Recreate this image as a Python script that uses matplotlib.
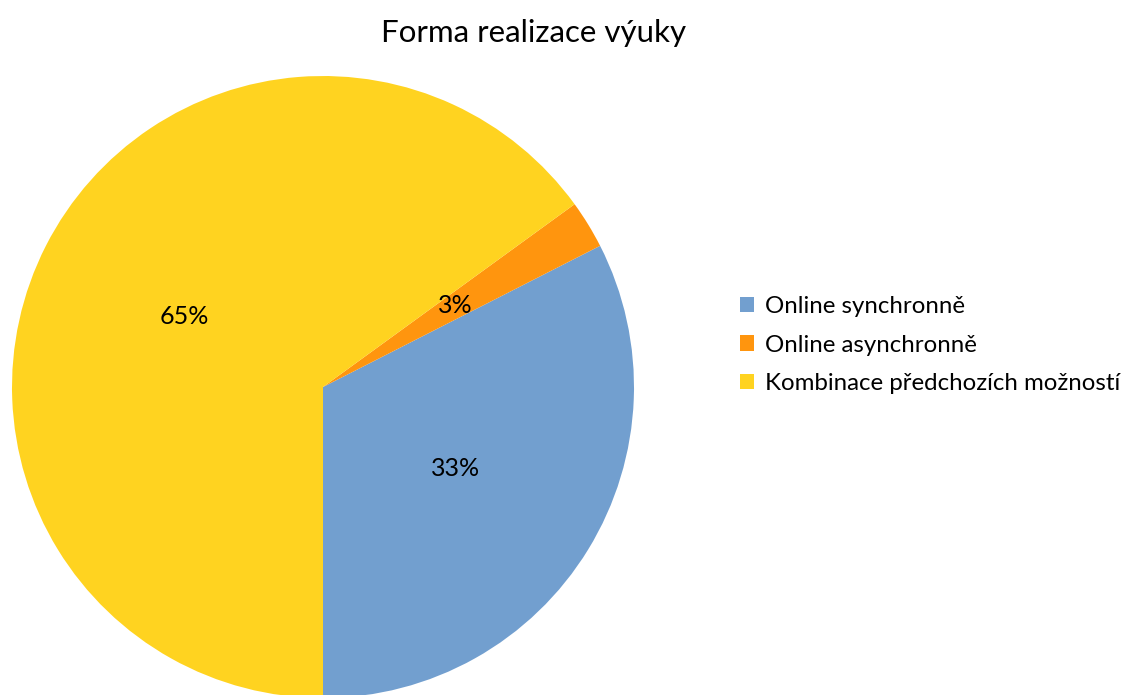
import math
import matplotlib.pyplot as plt

# Data: respondents per form of teaching (13/1/26 of 40)
labels = ["Online synchronně", "Online asynchronně", "Kombinace předchozích možností"]
counts = [13, 1, 26]
colors = ["#729fcf", "#ff950e", "#ffd320"]

plt.rcParams['font.family'] = ['Lato', 'DejaVu Sans']


def pct_label(p):
    # Excel-style rounding (half up)
    return f"{math.floor(p + 0.5 + 1e-9)}%"


fig = plt.figure(figsize=(11.32, 6.95), dpi=100)
ax = fig.add_axes([12 / 1132, (695 - 387 - 311) / 695, 622 / 1132, 622 / 695])

wedges, texts, autotexts = ax.pie(counts, colors=colors, startangle=-90, counterclock=True,
                                  autopct=pct_label, pctdistance=0.5, radius=1.0,
                                  textprops={'fontsize': 18, 'color': 'black'})
ax.set_xlim(-1, 1)
ax.set_ylim(-1, 1)
ax.set_aspect('equal')

fig.text(534 / 1132, 1 - 33 / 695, "Forma realizace výuky", ha='center', va='center', fontsize=22.5)

fig.legend(wedges, labels, loc='center left', bbox_to_anchor=(740 / 1132, 1 - 345 / 695),
           frameon=False, fontsize=17.3, handlelength=0.6, handleheight=0.6,
           handletextpad=0.45, labelspacing=0.72, borderpad=0, borderaxespad=0)

fig.savefig("out.png", dpi=100)
